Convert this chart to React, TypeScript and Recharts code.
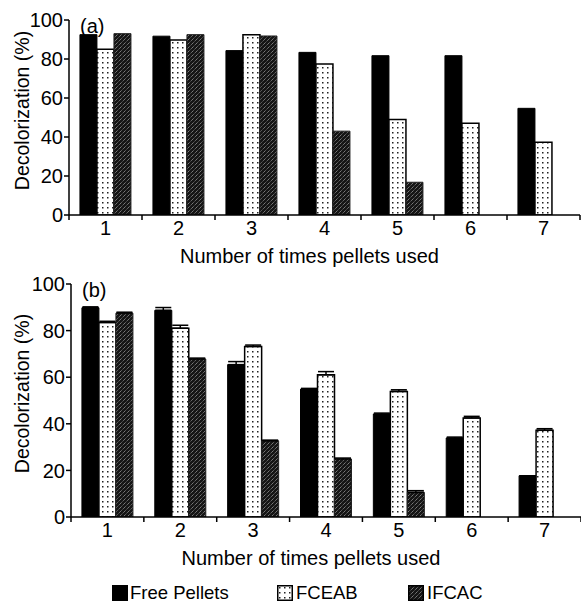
import React from 'react';
import { BarChart, Bar, XAxis, YAxis, ErrorBar, Label } from 'recharts';

const categories = ['1', '2', '3', '4', '5', '6', '7'];
const seriesNames = ['Free Pellets', 'FCEAB', 'IFCAC'];
const yTicks = [0, 20, 40, 60, 80, 100];

const freeA = [92.5, 91.7, 84.3, 83.4, 81.7, 81.7, 54.7];
const fceabA = [85, 89.7, 92.5, 77.4, 49, 47, 37.3];
const ifcacA: (number | null)[] = [93, 92.5, 91.8, 43, 16.8, null, null];

const freeB = [89.8, 88.7, 65.4, 54.9, 44.2, 33.9, 17.7];
const fceabB = [83.5, 81, 73.2, 61, 53.9, 42.5, 37.2];
const ifcacB: (number | null)[] = [87.5, 67.8, 32.7, 24.9, 10.6, null, null];
const freeBErr = [0.4, 1.2, 1.3, 0.3, 0.4, 0.4, 0];
const fceabBErr = [0.5, 1.3, 0.6, 1.4, 0.7, 0.7, 0.7];
const ifcacBErr: (number | null)[] = [0.4, 0.4, 0.3, 0.4, 0.7, null, null];

const dataA = categories.map((c, i) => ({ cat: c, free: freeA[i], fceab: fceabA[i], ifcac: ifcacA[i] }));
const dataB = categories.map((c, i) => ({
  cat: c,
  free: freeB[i],
  fceab: fceabB[i],
  ifcac: ifcacB[i],
  freeErr: [0, freeBErr[i]],
  fceabErr: [0, fceabBErr[i]],
  ifcacErr: ifcacBErr[i] == null ? null : [0, ifcacBErr[i]],
}));

const FONT = 'Arial, "Liberation Sans", Helvetica, sans-serif';

const XTick = (props: any) => {
  const { x, y, payload } = props;
  const off = payload.offset ?? 36.5;
  const axisY = y - 7;
  return (
    <g>
      <line x1={x - off} y1={axisY} x2={x - off} y2={axisY + 5} stroke="#000" strokeWidth={1.5} />
      {payload.index === 6 && (
        <line x1={x + off} y1={axisY} x2={x + off} y2={axisY + 5} stroke="#000" strokeWidth={1.5} />
      )}
      <text x={x} y={y - 1} dy="0.71em" textAnchor="middle" fill="#000" fontSize={20} fontFamily={FONT}>
        {payload.value}
      </text>
    </g>
  );
};

const Panel = ({ data, tag, withErr }: { data: any[]; tag: string; withErr: boolean }) => {
  const yLabel = (p: any) => {
    const vb = p.viewBox;
    const cy = vb.y + vb.height / 2 - 7;
    return (
      <g>
        <text
          x={22}
          y={cy}
          transform={`rotate(-90, 22, ${cy})`}
          textAnchor="middle"
          dominantBaseline="central"
          fontSize={19.5}
          fontFamily={FONT}
          fill="#000"
        >
          Decolorization (%)
        </text>
        <text x={vb.x + vb.width + 11} y={vb.y + 13} fontSize={20} fontFamily={FONT} fill="#000">
          {tag}
        </text>
      </g>
    );
  };
  const xLabel = (p: any) => {
    const vb = p.viewBox;
    return (
      <text
        x={vb.x + vb.width / 2 - 15}
        y={vb.y + 48}
        textAnchor="middle"
        fontSize={20}
        fontFamily={FONT}
        fill="#000"
      >
        Number of times pellets used
      </text>
    );
  };
  return (
    <BarChart
      width={581}
      height={withErr ? 308 : 270}
      data={data}
      margin={{ top: 20, right: withErr ? 0 : 1, left: 0, bottom: 0 }}
      barCategoryGap="15%"
      barGap={0}
    >
      <XAxis
        dataKey="cat"
        interval={0}
        tickLine={false}
        tickSize={5}
        tickMargin={2}
        height={55}
        axisLine={{ stroke: '#000', strokeWidth: 1.5 }}
        tick={<XTick />}
      >
        <Label content={xLabel} />
      </XAxis>
      <YAxis
        domain={[0, 100]}
        ticks={yTicks}
        width={withErr ? 71 : 69}
        tickSize={5}
        tickMargin={1}
        tickLine={{ stroke: '#000', strokeWidth: 1.5 }}
        axisLine={{ stroke: '#000', strokeWidth: 1.5 }}
        tick={{ fill: '#000', fontSize: 20, fontFamily: FONT }}
        allowDataOverflow
      >
        <Label content={yLabel} />
      </YAxis>
      <Bar dataKey="free" name={seriesNames[0]} fill="#000" stroke="#000" strokeWidth={1} isAnimationActive={false}>
        {withErr && <ErrorBar dataKey="freeErr" width={8} stroke="#000" strokeWidth={1.5} direction="y" />}
      </Bar>
      <Bar dataKey="fceab" name={seriesNames[1]} fill="url(#dots)" stroke="#000" strokeWidth={1.5} isAnimationActive={false}>
        {withErr && <ErrorBar dataKey="fceabErr" width={8} stroke="#000" strokeWidth={1.5} direction="y" />}
      </Bar>
      <Bar dataKey="ifcac" name={seriesNames[2]} fill="url(#hatch)" stroke="#222" strokeWidth={1} isAnimationActive={false}>
        {withErr && <ErrorBar dataKey="ifcacErr" width={8} stroke="#000" strokeWidth={1.5} direction="y" />}
      </Bar>
    </BarChart>
  );
};

const Swatch = ({ fill }: { fill: string }) => (
  <svg width={16} height={16} style={{ display: 'block' }}>
    <rect x={0.75} y={0.75} width={14.5} height={14.5} fill={fill} stroke="#000" strokeWidth={1.5} />
  </svg>
);

export default function App() {
  const legendItems = [
    { name: seriesNames[0], fill: '#000', sx: 112, tx: 130 },
    { name: seriesNames[1], fill: 'url(#dots)', sx: 277, tx: 296 },
    { name: seriesNames[2], fill: 'url(#hatch)', sx: 408, tx: 427 },
  ];
  return (
    <div style={{ position: 'absolute', left: 0, top: 0, width: 581, height: 606, background: '#fff', overflow: 'hidden' }}>
      <svg width={0} height={0} style={{ position: 'absolute' }}>
        <defs>
          <pattern id="dots" width={5} height={5} patternUnits="userSpaceOnUse">
            <rect width={5} height={5} fill="#fff" />
            <rect x={2} y={2} width={1.5} height={1.5} fill="#222" />
          </pattern>
          <pattern id="hatch" width={4} height={4} patternUnits="userSpaceOnUse">
            <rect width={4} height={4} fill="#151515" />
            <path d="M0,4 L4,0" stroke="#bbb" strokeWidth={0.7} strokeDasharray="1.2 0.8" />
          </pattern>
        </defs>
      </svg>
      <div style={{ position: 'absolute', left: 0, top: 0 }}>
        <Panel data={dataA} tag="(a)" withErr={false} />
      </div>
      <div style={{ position: 'absolute', left: 0, top: 264 }}>
        <Panel data={dataB} tag="(b)" withErr={true} />
      </div>
      {legendItems.map((it) => (
        <React.Fragment key={it.name}>
          <div style={{ position: 'absolute', left: it.sx, top: 585 }}>
            <Swatch fill={it.fill} />
          </div>
          <div
            style={{
              position: 'absolute',
              left: it.tx,
              top: 581,
              fontFamily: FONT,
              fontSize: 18.5,
              lineHeight: '24px',
              color: '#000',
              whiteSpace: 'nowrap',
            }}
          >
            {it.name}
          </div>
        </React.Fragment>
      ))}
    </div>
  );
}
